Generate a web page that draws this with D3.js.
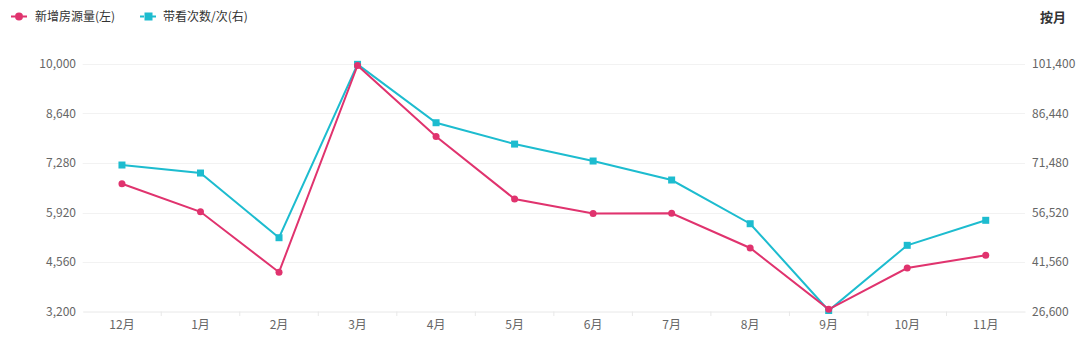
<!DOCTYPE html>
<html><head><meta charset="utf-8">
<script src="https://cdn.jsdelivr.net/npm/d3@7"></script>
<style>body{margin:0;background:#fff}svg{display:block}text{font-family:"Noto Sans CJK SC","Noto Sans",sans-serif}</style>
</head><body><svg id="c" width="1080" height="342"></svg>
<script>
const categories = ["12月","1月","2月","3月","4月","5月","6月","7月","8月","9月","10月","11月"];
const newListings = [6710,5940,4280,9960,8010,6290,5890,5900,4945,3260,4395,4745];
const viewings = [70870,68450,48900,101300,83650,77200,72080,66340,53130,26900,46600,54160];
const leftTicks = [3200,4560,5920,7280,8640,10000];
const rightTicks = [26600,41560,56520,71480,86440,101400];
const seriesNames = ["新增房源量(左)","带看次数/次(右)"];
const pink = "#e0336e", cyan = "#1dbccf";

const svg = d3.select("#c");
const x = d3.scaleBand().domain(categories).range([82.7,1025]);
const yL = d3.scaleLinear().domain([3200,10000]).range([311.5,64]);
const yR = d3.scaleLinear().domain([26600,101400]).range([311.5,64]);
const fmt = d3.format(",");

// grid
svg.append("g").selectAll("line").data(leftTicks.slice(1)).join("line")
  .attr("x1",82.7).attr("x2",1025).attr("y1",d=>Math.round(yL(d))+0.5).attr("y2",d=>Math.round(yL(d))+0.5)
  .attr("stroke","#f2f2f2");

// left axis
const gl = svg.append("g").attr("transform","translate(76,0)")
  .call(d3.axisLeft(yL).tickValues(leftTicks).tickFormat(fmt).tickSize(0).tickPadding(0));
gl.select(".domain").remove();
gl.selectAll("text").attr("fill","#666").style("font-size","12px");

const gr = svg.append("g").attr("transform","translate(1032,0)")
  .call(d3.axisRight(yR).tickValues(rightTicks).tickFormat(fmt).tickSize(0).tickPadding(0));
gr.select(".domain").remove();
gr.selectAll("text").attr("fill","#666").style("font-size","12px");

// x axis
const gx = svg.append("g").attr("transform","translate(0,311.5)")
  .call(d3.axisBottom(x).tickSize(0).tickPadding(9));
gx.select(".domain").attr("stroke","#e8e8e8");
gx.selectAll("text").attr("fill","#666").style("font-size","12px");
svg.append("g").selectAll("line").data(categories.slice(1)).join("line")
  .attr("x1",d=>x(d)).attr("x2",d=>x(d)).attr("y1",311.5).attr("y2",316)
  .attr("stroke","#e8e8e8");

const cx = d => x(d)+x.bandwidth()/2;

// cyan line
svg.append("path").datum(viewings).attr("fill","none").attr("stroke",cyan).attr("stroke-width",2)
  .attr("d",d3.line().x((d,i)=>cx(categories[i])).y(d=>yR(d)));
svg.append("g").selectAll("rect").data(viewings).join("rect")
  .attr("x",(d,i)=>cx(categories[i])-3.5).attr("y",d=>yR(d)-3.5).attr("width",7).attr("height",7).attr("fill",cyan);

// pink line
svg.append("path").datum(newListings).attr("fill","none").attr("stroke",pink).attr("stroke-width",2)
  .attr("d",d3.line().x((d,i)=>cx(categories[i])).y(d=>yL(d)));
svg.append("g").selectAll("circle").data(newListings).join("circle")
  .attr("cx",(d,i)=>cx(categories[i])).attr("cy",d=>yL(d)).attr("r",3.5).attr("fill",pink);

// legend
const lg = svg.append("g");
lg.append("line").attr("x1",11).attr("x2",27).attr("y1",16.5).attr("y2",16.5).attr("stroke",pink).attr("stroke-width",2).attr("stroke-dasharray","4,2");
lg.append("circle").attr("cx",19).attr("cy",16.5).attr("r",4).attr("fill",pink);
lg.append("text").attr("x",35).attr("y",21).text(seriesNames[0]).attr("fill","#333").style("font-size","12px");
lg.append("line").attr("x1",140).attr("x2",157).attr("y1",16.5).attr("y2",16.5).attr("stroke",cyan).attr("stroke-width",2).attr("stroke-dasharray","4,2");
lg.append("rect").attr("x",144.5).attr("y",12.5).attr("width",8).attr("height",8).attr("fill",cyan);
lg.append("text").attr("x",163).attr("y",21).text(seriesNames[1]).attr("fill","#333").style("font-size","12px");

svg.append("text").attr("x",1040).attr("y",22).text("按月").attr("fill","#333").style("font-size","13px").style("font-weight","bold");
</script></body></html>
